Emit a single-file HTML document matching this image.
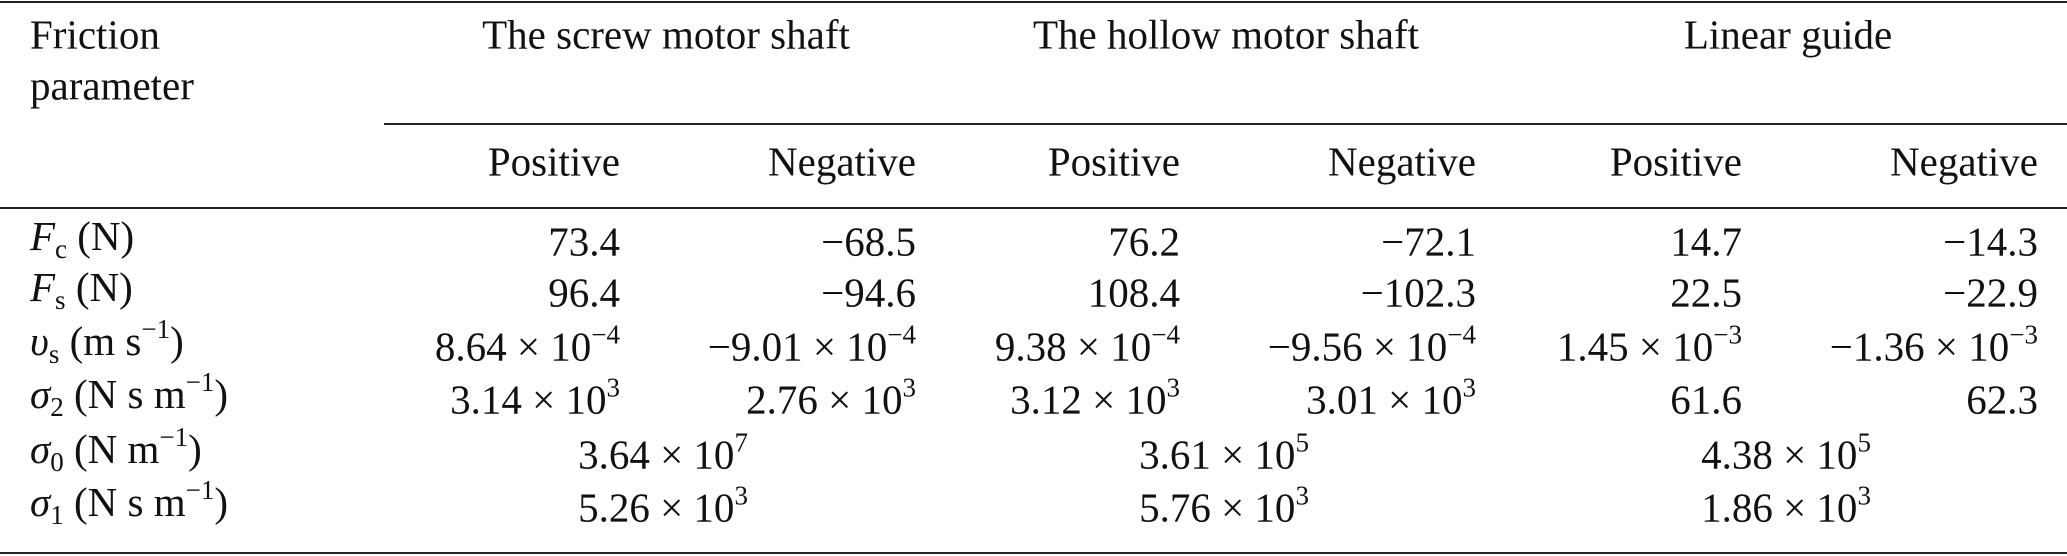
<!DOCTYPE html>
<html><head><meta charset="utf-8"><style>
body{margin:0;width:2067px;height:556px;background:#fff;position:relative;overflow:hidden;font-family:"Liberation Serif",serif;font-size:41px;color:#111}
.t{position:absolute;white-space:nowrap;line-height:1}
.r{transform:translate(-100%,-87%)}
.c{transform:translate(-50%,-87%)}
.l{transform:translate(0,-87%)}
.h{position:absolute;height:2px;background:#222}
sup{font-size:27px;position:relative;top:-5px;vertical-align:top;line-height:1}
sub{font-size:27px;vertical-align:-8px;line-height:1}
i{font-style:italic}
</style></head><body>
<div class="h" style="left:0;top:1px;width:2067px"></div>
<div class="h" style="left:384px;top:123px;width:1683px"></div>
<div class="h" style="left:0;top:207px;width:2067px"></div>
<div class="h" style="left:0;top:552px;width:2067px"></div>

<div class="t l" style="left:30px;top:50px">Friction</div>
<div class="t l" style="left:30px;top:101px">parameter</div>
<div class="t c" style="left:666px;top:50px">The screw motor shaft</div>
<div class="t c" style="left:1226px;top:50px">The hollow motor shaft</div>
<div class="t c" style="left:1788px;top:50px">Linear guide</div>

<div class="t r" style="left:620px;top:177px">Positive</div>
<div class="t r" style="left:916px;top:177px">Negative</div>
<div class="t r" style="left:1180px;top:177px">Positive</div>
<div class="t r" style="left:1476px;top:177px">Negative</div>
<div class="t r" style="left:1742px;top:177px">Positive</div>
<div class="t r" style="left:2038px;top:177px">Negative</div>

<div class="t l" style="left:30px;top:257px"><i>F</i><sub>c</sub> (N)</div>
<div class="t l" style="left:30px;top:308px"><i>F</i><sub>s</sub> (N)</div>
<div class="t l" style="left:30px;top:362px"><i>υ</i><sub>s</sub> (m s<sup>−1</sup>)</div>
<div class="t l" style="left:30px;top:415px"><i>σ</i><sub>2</sub> (N s m<sup>−1</sup>)</div>
<div class="t l" style="left:30px;top:470px"><i>σ</i><sub>0</sub> (N m<sup>−1</sup>)</div>
<div class="t l" style="left:30px;top:523px"><i>σ</i><sub>1</sub> (N s m<sup>−1</sup>)</div>

<div class="t r" style="left:620px;top:257px">73.4</div>
<div class="t r" style="left:916px;top:257px">−68.5</div>
<div class="t r" style="left:1180px;top:257px">76.2</div>
<div class="t r" style="left:1476px;top:257px">−72.1</div>
<div class="t r" style="left:1742px;top:257px">14.7</div>
<div class="t r" style="left:2038px;top:257px">−14.3</div>

<div class="t r" style="left:620px;top:308px">96.4</div>
<div class="t r" style="left:916px;top:308px">−94.6</div>
<div class="t r" style="left:1180px;top:308px">108.4</div>
<div class="t r" style="left:1476px;top:308px">−102.3</div>
<div class="t r" style="left:1742px;top:308px">22.5</div>
<div class="t r" style="left:2038px;top:308px">−22.9</div>

<div class="t r" style="left:620px;top:362px">8.64 × 10<sup>−4</sup></div>
<div class="t r" style="left:916px;top:362px">−9.01 × 10<sup>−4</sup></div>
<div class="t r" style="left:1180px;top:362px">9.38 × 10<sup>−4</sup></div>
<div class="t r" style="left:1476px;top:362px">−9.56 × 10<sup>−4</sup></div>
<div class="t r" style="left:1742px;top:362px">1.45 × 10<sup>−3</sup></div>
<div class="t r" style="left:2038px;top:362px">−1.36 × 10<sup>−3</sup></div>

<div class="t r" style="left:620px;top:415px">3.14 × 10<sup>3</sup></div>
<div class="t r" style="left:916px;top:415px">2.76 × 10<sup>3</sup></div>
<div class="t r" style="left:1180px;top:415px">3.12 × 10<sup>3</sup></div>
<div class="t r" style="left:1476px;top:415px">3.01 × 10<sup>3</sup></div>
<div class="t r" style="left:1742px;top:415px">61.6</div>
<div class="t r" style="left:2038px;top:415px">62.3</div>

<div class="t c" style="left:663px;top:470px">3.64 × 10<sup>7</sup></div>
<div class="t c" style="left:1224px;top:470px">3.61 × 10<sup>5</sup></div>
<div class="t c" style="left:1786px;top:470px">4.38 × 10<sup>5</sup></div>
<div class="t c" style="left:663px;top:523px">5.26 × 10<sup>3</sup></div>
<div class="t c" style="left:1224px;top:523px">5.76 × 10<sup>3</sup></div>
<div class="t c" style="left:1786px;top:523px">1.86 × 10<sup>3</sup></div>
</body></html>
